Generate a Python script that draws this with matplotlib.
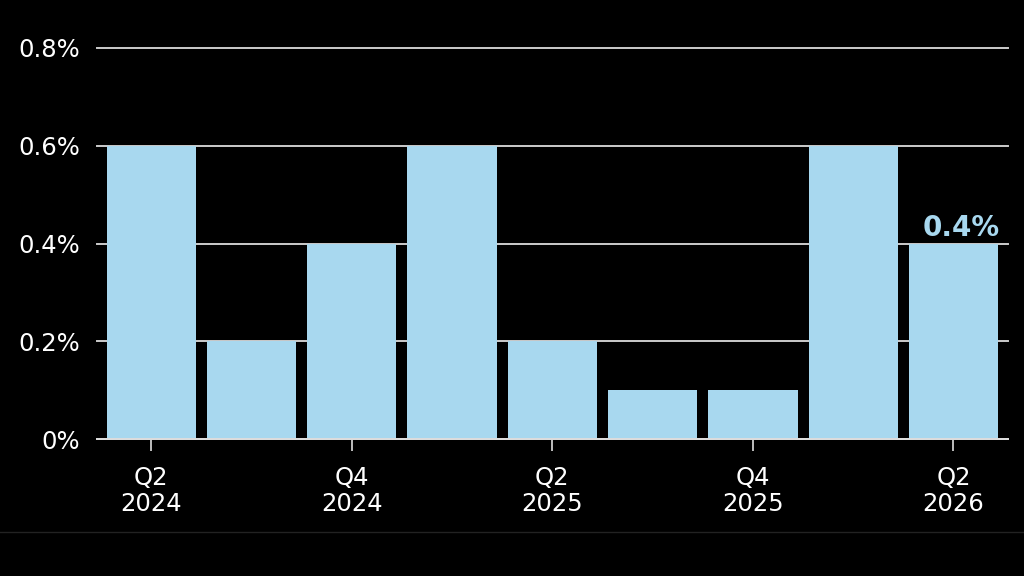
import numpy as np
import matplotlib.pyplot as plt
from matplotlib.lines import Line2D

# quarterly values, Q2 2024 .. Q2 2026
quarters = ['Q2\n2024', 'Q3\n2024', 'Q4\n2024', 'Q1\n2025', 'Q2\n2025',
            'Q3\n2025', 'Q4\n2025', 'Q1\n2026', 'Q2\n2026']
values = [0.6, 0.2, 0.4, 0.6, 0.2, 0.1, 0.1, 0.6, 0.4]
yticks = [0, 0.2, 0.4, 0.6, 0.8]
ytick_labels = ['0%', '0.2%', '0.4%', '0.6%', '0.8%']

bar_color = '#a8d8ef'
text_color = '#ffffff'

fig = plt.figure(figsize=(10.24, 5.76), dpi=100, facecolor='black')
ax = fig.add_axes([0.0947, 0.2378, 0.8893, 0.6789], facecolor='black')

x = np.arange(len(values))
ax.bar(x, values, width=0.89, color=bar_color, zorder=2)

ax.set_xlim(-0.54, 8.54)
ax.set_ylim(0, 0.8)
ax.set_yticks(yticks)
ax.set_yticklabels(ytick_labels)
ax.grid(axis='y', color='#cccccc', linewidth=1.4, zorder=1)
for gl in ax.get_ygridlines():
    gl.set_clip_on(False)

ax.set_xticks(x[::2])
ax.set_xticklabels(quarters[::2], linespacing=1.12)

ax.tick_params(axis='y', length=0, pad=12, labelsize=17.5, labelcolor=text_color)
ax.tick_params(axis='x', length=8.5, width=1.3, color='#cccccc', pad=11,
               labelsize=17.5, labelcolor=text_color)

for side in ['top', 'right', 'left']:
    ax.spines[side].set_visible(False)
ax.spines['bottom'].set_color('#dddddd')
ax.spines['bottom'].set_linewidth(1.4)
ax.spines['bottom'].set_zorder(3)

# label on the latest bar
ax.text(x[-1] + 0.46, values[-1] + 0.004, '0.4%', ha='right', va='bottom',
        fontsize=20, fontweight='bold', color=bar_color)

# thin footer rule
fig.add_artist(Line2D([0, 1], [1 - 532 / 576] * 2, color='#222222',
                      linewidth=1, transform=fig.transFigure))

fig.savefig('out.png', dpi=100, facecolor='black')
